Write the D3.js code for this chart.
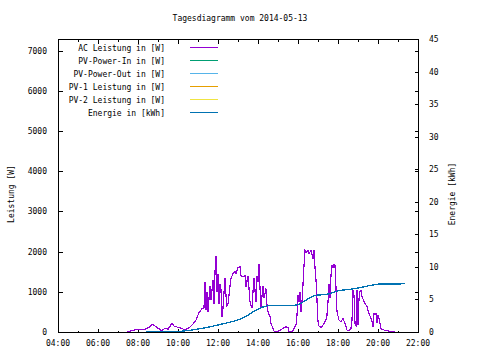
<!DOCTYPE html>
<html>
<head>
<meta charset="utf-8">
<script src="https://cdn.jsdelivr.net/npm/d3@7"></script>
<style>
  html, body { margin: 0; padding: 0; background: #fff; }
  svg text { font-family: "DejaVu Sans Mono", "Liberation Mono", monospace; font-size: 8px; fill: #000; }
</style>
</head>
<body>
<svg id="chart" width="480" height="360"></svg>
<script>
const title = "Tagesdiagramm vom 2014-05-13";
const yLabel = "Leistung [W]";
const y2Label = "Energie [kWh]";
const seriesNames = ["AC Leistung in [W]", "PV-Power-In in [W]", "PV-Power-Out in [W]", "PV-1 Leistung in [W]", "PV-2 Leistung in [W]", "Energie in [kWh]"];
const seriesColors = ["#9400d3", "#009e73", "#56b4e9", "#e69f00", "#f0e442", "#0072b2"];
const xTickLabels = ["04:00", "06:00", "08:00", "10:00", "12:00", "14:00", "16:00", "18:00", "20:00", "22:00"];
const yTicks = [0, 1000, 2000, 3000, 4000, 5000, 6000, 7000];
const y2Ticks = [0, 5, 10, 15, 20, 25, 30, 35, 40, 45];

// AC Leistung in [W]
const acTimes = ["07:27","07:36","07:45","08:00","08:12","08:21","08:36","08:42","08:51","09:06","09:12","09:21","09:30","09:42","09:48","10:00","10:12","10:21","10:30","10:36","10:45","10:54","11:03","11:12","11:18","11:21","11:24","11:27","11:30","11:36","11:39","11:45","11:48","11:51","11:54","11:57","12:00","12:03","12:06","12:09","12:12","12:15","12:21","12:24","12:27","12:30","12:36","12:39","12:45","12:51","12:54","13:00","13:06","13:09","13:15","13:21","13:24","13:30","13:33","13:36","13:42","13:45","13:48","13:54","13:57","14:00","14:03","14:06","14:09","14:12","14:15","14:18","14:24","14:27","14:30","14:36","14:39","14:45","14:48","14:54","15:03","15:15","15:24","15:30","15:33","15:45","15:48","15:54","15:57","16:00","16:03","16:06","16:09","16:12","16:15","16:18","16:21","16:24","16:30","16:33","16:39","16:45","16:48","16:51","16:54","16:57","17:00","17:03","17:09","17:12","17:18","17:24","17:27","17:30","17:33","17:36","17:39","17:42","17:45","17:48","17:51","17:54","17:57","18:03","18:09","18:12","18:15","18:21","18:24","18:27","18:33","18:39","18:42","18:45","18:48","18:51","18:54","18:57","19:00","19:03","19:06","19:09","19:12","19:18","19:24","19:27","19:33","19:39","19:42","19:45","19:48","19:54","19:57","20:00","20:03","20:09","20:12","20:18","20:27","20:36","20:51"];
const acValues = [0,20,40,65,70,70,130,190,150,60,30,100,70,215,150,115,90,50,90,120,200,300,480,580,600,1250,550,1000,500,1150,800,1300,700,1500,1880,1000,1450,700,1200,1050,380,600,1350,900,650,700,1150,1330,1450,1500,1450,1600,1620,1400,1380,1400,1130,1400,1080,750,590,1000,1330,750,1400,1250,1700,1100,600,900,1150,850,1080,650,500,380,215,90,25,10,25,90,130,110,10,25,90,170,420,920,750,1000,500,750,1180,1660,2030,1980,2030,1950,2030,1820,2050,1600,1300,800,250,150,110,130,210,300,420,750,1200,850,1410,1650,1600,1680,1660,1100,500,300,250,300,340,210,130,50,25,90,300,1040,920,210,170,1040,170,830,1010,1030,890,750,670,630,460,340,255,130,460,460,220,420,340,90,65,50,30,20,0];

// Energie in [kWh]
const energyTimes = ["08:24","09:36","10:06","10:36","11:06","11:36","12:06","12:36","13:06","13:30","13:51","14:12","14:30","15:51","16:06","16:21","16:36","16:54","17:21","17:36","17:51","18:06","18:36","19:06","19:36","20:00","21:21"];
const energyValues = [0,0.05,0.1,0.25,0.5,0.8,1.15,1.5,1.95,2.6,3.3,3.8,4.05,4.1,4.3,4.8,5.3,5.65,5.75,5.9,6.2,6.4,6.55,6.8,7.15,7.35,7.4];

const parseT = d3.timeParse("%Y-%m-%d %H:%M");
const day = "2014-05-13 ";
const ac = acTimes.map((t, i) => ({ t: parseT(day + t), v: acValues[i] }));
const energy = energyTimes.map((t, i) => ({ t: parseT(day + t), v: energyValues[i] }));

const L = 58, R = 418, T = 39, B = 332;
const svg = d3.select("#chart");

const x = d3.scaleTime().domain([parseT(day + "04:00"), parseT(day + "22:00")]).range([L, R]);
const y = d3.scaleLinear().domain([0, 7290]).range([B, T]);
const y2 = d3.scaleLinear().domain([0, 45]).range([B, T]);

const hourTicks = d3.range(4, 23).map(h => parseT(day + String(h).padStart(2, "0") + ":00"));
const g = svg.append("g").attr("shape-rendering", "crispEdges").attr("stroke", "#000").attr("stroke-width", 1);

// x ticks bottom and top (mirrored)
hourTicks.forEach((d, i) => {
  const px = Math.round(x(d)) + 0.5;
  const len = (i % 2 === 0) ? 4 : 2;
  g.append("line").attr("x1", px).attr("x2", px).attr("y1", B + 0.5).attr("y2", B + 0.5 - len);
  g.append("line").attr("x1", px).attr("x2", px).attr("y1", T + 0.5).attr("y2", T + 0.5 + len);
});
// left y ticks (mirrored on right)
yTicks.forEach(v => {
  const py = Math.round(y(v)) + 0.5;
  g.append("line").attr("x1", L + 0.5).attr("x2", L + 4.5).attr("y1", py).attr("y2", py);
  g.append("line").attr("x1", R + 0.5).attr("x2", R - 3.5).attr("y1", py).attr("y2", py);
});
// right y2 ticks
y2Ticks.forEach(v => {
  const py = Math.round(y2(v)) + 0.5;
  g.append("line").attr("x1", R + 0.5).attr("x2", R - 3.5).attr("y1", py).attr("y2", py);
});

// tick labels
xTickLabels.forEach((lab, i) => {
  svg.append("text").attr("x", x(hourTicks[i * 2])).attr("y", 346).attr("text-anchor", "middle").text(lab);
});
yTicks.forEach(v => {
  svg.append("text").attr("x", 47).attr("y", y(v) + 3).attr("text-anchor", "end").text(v);
});
y2Ticks.forEach(v => {
  svg.append("text").attr("x", 429).attr("y", y2(v) + 3).attr("text-anchor", "start").text(v);
});

// axis titles
svg.append("text").attr("x", 240).attr("y", 21).attr("text-anchor", "middle").text(title);
svg.append("text").attr("transform", "translate(14,194) rotate(-90)").attr("text-anchor", "middle").text(yLabel);
svg.append("text").attr("transform", "translate(455,194) rotate(-90)").attr("text-anchor", "middle").text(y2Label);

// data lines
const lineAC = d3.line().x(d => x(d.t)).y(d => y(d.v));
const lineE = d3.line().x(d => x(d.t)).y(d => y2(d.v));
svg.append("path").datum(ac).attr("d", lineAC).attr("fill", "none").attr("stroke", seriesColors[0]).attr("stroke-width", 1.2).attr("shape-rendering", "crispEdges");
svg.append("path").datum(energy).attr("d", lineE).attr("fill", "none").attr("stroke", seriesColors[5]).attr("stroke-width", 1.3).attr("shape-rendering", "crispEdges");

// legend
seriesNames.forEach((name, i) => {
  const ly = 47.5 + i * 13;
  svg.append("text").attr("x", 165).attr("y", ly + 3).attr("text-anchor", "end").text(name);
  svg.append("line").attr("x1", 190).attr("x2", 218).attr("y1", ly).attr("y2", ly)
    .attr("stroke", seriesColors[i]).attr("stroke-width", 1.2).attr("shape-rendering", "crispEdges");
});

// frame
svg.append("rect").attr("x", L + 0.5).attr("y", T + 0.5).attr("width", R - L).attr("height", B - T)
  .attr("fill", "none").attr("stroke", "#000").attr("stroke-width", 1).attr("shape-rendering", "crispEdges");
</script>
</body>
</html>
